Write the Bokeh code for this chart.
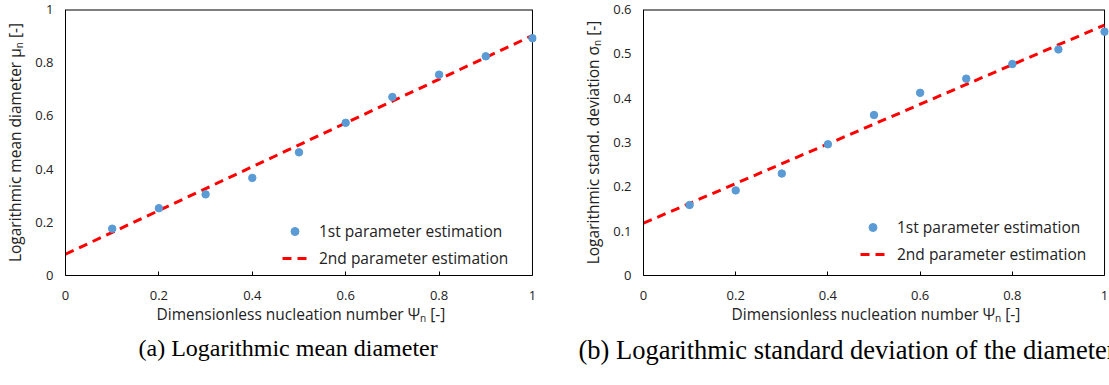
from bokeh.plotting import figure
from bokeh.models import FixedTicker, Legend, LegendItem, Title, Range1d
from bokeh.layouts import row
from bokeh.embed import file_html
from bokeh.resources import INLINE

# Dimensionless nucleation number
psi = [0.1, 0.2, 0.3, 0.4, 0.5, 0.6, 0.7, 0.8, 0.9, 1.0]

# (a) logarithmic mean diameter: first estimation points, second estimation line
mu_first = [0.176, 0.253, 0.305, 0.367, 0.463, 0.574, 0.671, 0.755, 0.824, 0.892]
mu_line_x = [0.0, 1.0]
mu_line_y = [0.080, 0.902]

# (b) logarithmic standard deviation: first estimation points, second estimation line
sigma_first = [0.159, 0.192, 0.230, 0.296, 0.362, 0.412, 0.444, 0.477, 0.510, 0.550]
sigma_line_x = [0.0, 1.0]
sigma_line_y = [0.118, 0.565]

x_ticks = [0, 0.2, 0.4, 0.6, 0.8, 1]
x_tick_labels = ["0", "0.2", "0.4", "0.6", "0.8", "1"]
mu_ticks = [0, 0.2, 0.4, 0.6, 0.8, 1]
mu_tick_labels = ["0", "0.2", "0.4", "0.6", "0.8", "1"]
sigma_ticks = [0, 0.1, 0.2, 0.3, 0.4, 0.5, 0.6]
sigma_tick_labels = ["0", "0.1", "0.2", "0.3", "0.4", "0.5", "0.6"]

FONT = "Open Sans"
TEXT_COLOR = "#222222"
POINT_COLOR = "#5B9BD5"
LINE_COLOR = "#FF0000"
X_MAX = 1.0
X_PAD = 0.0086   # a few pixels of room so the last marker is not cut by the frame


def panel(width, y_max, y_ticks, y_labels, y_title, pts, lx, ly,
          border_left, border_right, caption, caption_size, caption_offset, legend_loc):
    p = figure(width=width, height=385, output_backend="svg", toolbar_location=None,
               x_range=Range1d(0, X_MAX + X_PAD), y_range=Range1d(0, y_max),
               min_border_left=border_left, min_border_right=border_right,
               min_border_top=9, min_border_bottom=110)
    p.grid.visible = False
    p.outline_line_color = None
    p.background_fill_color = "white"
    p.border_fill_color = "white"

    xa = p.xaxis[0]
    xa.bounds = (0, X_MAX)
    xa.ticker = FixedTicker(ticks=x_ticks)
    xa.major_label_overrides = {t: s for t, s in zip(x_ticks, x_tick_labels)}
    xa.axis_label = "Dimensionless nucleation number \u03a8\u2099 [-]"
    xa.major_tick_in = 4
    xa.major_tick_out = 0
    xa.minor_tick_in = 0
    xa.minor_tick_out = 0
    xa.major_label_standoff = 15
    xa.axis_label_standoff = 0

    ya = p.yaxis[0]
    ya.ticker = FixedTicker(ticks=y_ticks)
    ya.major_label_overrides = {t: s for t, s in zip(y_ticks, y_labels)}
    ya.axis_label = y_title
    ya.major_tick_in = 0
    ya.major_tick_out = 0
    ya.minor_tick_in = 0
    ya.minor_tick_out = 0
    ya.major_label_standoff = 12
    ya.axis_label_standoff = 6

    for ax in (xa, ya):
        ax.axis_line_color = "#000000"
        ax.major_tick_line_color = "#000000"
        ax.major_label_text_font = FONT
        ax.major_label_text_font_size = "13px"
        ax.major_label_text_color = TEXT_COLOR
        ax.axis_label_text_font = FONT
        ax.axis_label_text_font_size = "15.5px"
        ax.axis_label_text_font_style = "normal"
        ax.axis_label_text_color = TEXT_COLOR

    # top and right edges of the plot box
    p.line([0, X_MAX], [y_max, y_max], line_color="#000000", line_width=2)
    p.line([X_MAX, X_MAX], [0, y_max], line_color="#000000", line_width=1)

    r_line = p.line(lx, ly, line_color=LINE_COLOR, line_width=3, line_dash="9 6")
    r_pts = p.scatter(psi, pts, size=7.5, fill_color=POINT_COLOR, line_color=POINT_COLOR)

    legend = Legend(items=[LegendItem(label="1st parameter estimation", renderers=[r_pts]),
                           LegendItem(label="2nd parameter estimation", renderers=[r_line])],
                    location=legend_loc, padding=0, margin=0, spacing=5,
                    glyph_width=25, label_standoff=12,
                    border_line_alpha=0, background_fill_alpha=0,
                    label_text_font=FONT, label_text_font_size="15.5px",
                    label_text_color=TEXT_COLOR)
    p.add_layout(legend, "center")

    cap = Title(text=caption, align="left", offset=caption_offset,
                text_font="Liberation Serif", text_font_size=caption_size,
                text_font_style="normal", text_color="#000000", standoff=11)
    p.add_layout(cap, "below")
    return p


p1 = panel(555, 1, mu_ticks, mu_tick_labels, "Logarithmic mean diameter \u03bc\u2099 [-]",
           mu_first, mu_line_x, mu_line_y, 65, 19,
           "(a) Logarithmic mean diameter", "24px", 73, (217, 6))
p2 = panel(554, 0.6, sigma_ticks, sigma_tick_labels,
           "Logarithmic stand. deviation \u03c3\u2099 [-]",
           sigma_first, sigma_line_x, sigma_line_y, 88, 1,
           "(b) Logarithmic standard deviation of the diameter", "26.5px", -65, (217, 10))

layout = row(p1, p2)
open("out.html", "w").write(file_html(layout, INLINE))
